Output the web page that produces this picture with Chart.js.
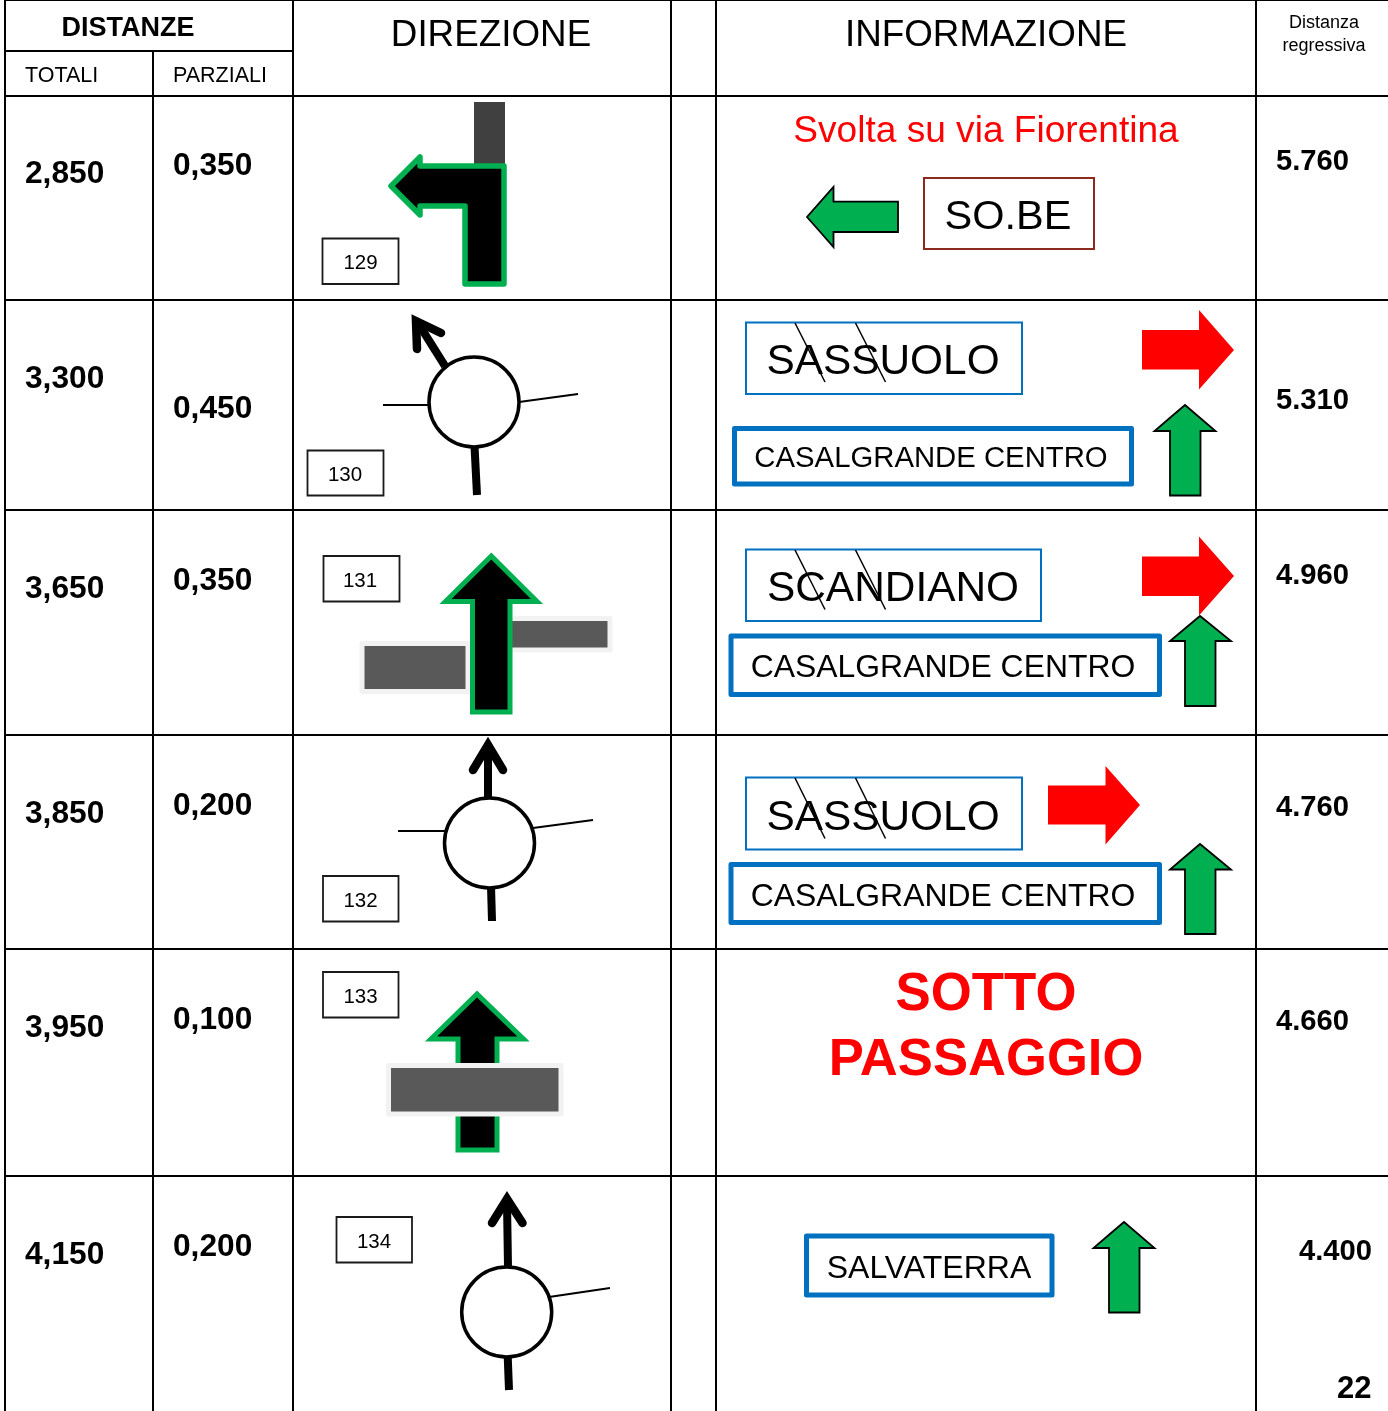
<!DOCTYPE html>
<html>
<head>
<meta charset="utf-8">
<style>
  html, body { margin: 0; padding: 0; background: #fff; }
  canvas { display: block; }
</style>
<script src="https://cdn.jsdelivr.net/npm/chart.js@4"></script>
</head>
<body>
<canvas id="mycanvas" width="1388" height="1411"></canvas>
<script>
// values read from the sheet
var totali = ["2,850", "3,300", "3,650", "3,850", "3,950", "4,150"];
var parziali = ["0,350", "0,450", "0,350", "0,200", "0,100", "0,200"];
var regressiva = ["5.760", "5.310", "4.960", "4.760", "4.660", "4.400"];
var numeri = ["129", "130", "131", "132", "133", "134"];
var intestazioni = ["DISTANZE", "TOTALI", "PARZIALI", "DIREZIONE", "INFORMAZIONE", "Distanza", "regressiva"];
var paginaNum = "22";

// layout of the table, in sheet pixels
var colonne = [5, 153, 293, 671, 716, 1256];
var righe = [0, 96, 300, 510, 735, 949, 1176];
var yTotali = [183, 388, 598, 823, 1037, 1264];
var yParziali = [175, 418, 590, 815, 1029, 1256];
var yRegressiva = [170, 409, 584, 816, 1030, 1260];
var xRegressiva = [1276, 1276, 1276, 1276, 1276, 1299];
var boxNumeri = [[322.5, 238.5, 398.5, 284], [307.5, 450.5, 383.5, 495.5], [323.5, 556, 399.5, 601.5], [323, 876, 398.5, 921.5], [323, 972, 398.5, 1017.5], [336.5, 1217, 412, 1262.5]];
var testoNumeri = [[360.5, 269], [345, 481], [360, 587], [360.5, 907], [360.5, 1003], [374, 1248]];

var VERDE = "#00B050", BLU = "#0070C0", ROSSO = "#FF0000", GRIGIO = "#595959", ALONE = "#F2F2F2";

var segni = [];

function linea(punti, colore, spessore, cap) {
  segni.push({
    data: punti.map(function(p){ return {x: p[0], y: p[1]}; }),
    showLine: true, fill: false, pointRadius: 0, tension: 0, clip: false,
    borderColor: colore, borderWidth: spessore, borderCapStyle: cap || "butt", borderJoinStyle: "miter"
  });
}

// closed shape: starts half way along an edge so the stroke has no notch
function forma(punti, riempi, colore, spessore, join) {
  var a = punti[0], b = punti[punti.length - 1];
  var mid = [(a[0] + b[0]) / 2, (a[1] + b[1]) / 2];
  var chiusa = [mid].concat(punti, [mid]);
  segni.push({
    data: chiusa.map(function(p){ return {x: p[0], y: p[1]}; }),
    showLine: true, fill: riempi ? "shape" : false, backgroundColor: riempi || "transparent",
    pointRadius: 0, tension: 0, clip: false,
    borderColor: colore, borderWidth: spessore, borderJoinStyle: join || "miter"
  });
}

function rett(x0, y0, x1, y1) {
  return [[x0, y0], [x1, y0], [x1, y1], [x0, y1]];
}

function cerchio(x, y) {
  segni.push({
    data: [{x: x, y: y}], showLine: false, clip: false, pointRadius: 45,
    pointBackgroundColor: "#fff", pointBorderColor: "#000", pointBorderWidth: 3.5
  });
}

// green sign arrow, the miter of the black outline stays inside the drawn tips
function frecciaSu(tip, y, xl, xr, s0, s1, bot) {
  forma([[tip, y + 1], [xr - 0.5, bot[0]], [s1, bot[0]], [s1, bot[1]], [s0, bot[1]], [s0, bot[0]], [xl + 0.5, bot[0]]], VERDE, "#000", 1.8);
}

function frecciaDx(x0, x1, y0, y1, top, bot, tx, ty) {
  forma([[x0, y0], [x1, y0], [x1, top], [tx, ty], [x1, bot], [x1, y1], [x0, y1]], ROSSO, ROSSO, 0);
}

function barra(x0, y0, x1, y1) {
  forma(rett(x0, y0, x1, y1), GRIGIO, ALONE, 5, "round");
}

function rotonda(cx, cy, braccia, uscita, testa, sotto) {
  braccia.forEach(function(b){ linea(b, "#000", 2); });
  linea(sotto, "#000", 8);
  linea(uscita, "#000", 8);
  linea(testa, "#000", 8.5, "round");
  cerchio(cx, cy);
}

// griglia
colonne.forEach(function(x, i){
  linea([[x, i === 1 ? 51 : 0], [x, 1411]], "#000", 2);
});
righe.forEach(function(y){
  linea([[5, y], [1388, y]], "#000", 2);
});
linea([[5, 51], [293, 51]], "#000", 2);

// riga 129
forma(rett(474, 102, 505, 168), "#404040", "#404040", 0);
forma([[391, 186], [420, 157], [420, 166], [504, 166], [504, 284], [465, 284], [465, 206], [420, 206], [420, 215]], "#000", VERDE, 5.5, "round");

// riga 130
rotonda(474, 402, [[[383, 405], [430, 405]], [[519, 402], [578, 394]]],
  [[445, 366], [418, 323]], [[417, 349], [416, 321], [441, 333]], [[474.5, 446], [477, 495]]);

// riga 131
barra(362, 643.5, 468, 691.5);
barra(505, 618.5, 610, 650);
forma([[491.3, 556], [537, 601.5], [510, 601.5], [510, 712], [472.5, 712], [472.5, 601.5], [445.5, 601.5]], "#000", VERDE, 5);

// riga 132
rotonda(489.5, 843, [[[398, 831], [445, 831]], [[533, 828], [593, 820]]],
  [[488.7, 798], [488, 748]], [[473, 770], [488, 745], [503, 770]], [[491, 886], [492, 921]]);

// riga 133
forma([[477, 994], [523.5, 1039], [497, 1039], [497, 1150], [458, 1150], [458, 1039], [431, 1039]], "#000", VERDE, 5);
barra(388.5, 1065.5, 561, 1114);

// riga 134
rotonda(506.7, 1312, [[[549, 1297], [610, 1288]]],
  [[508, 1267], [507, 1202]], [[492, 1223], [507, 1199], [522.5, 1223]], [[507.7, 1356], [509, 1390]]);

// riquadri numerati
boxNumeri.forEach(function(b){
  forma(rett(b[0], b[1], b[2], b[3]), null, "#1a1a1a", 1.8);
});

// informazioni, cartelli
forma(rett(924, 178, 1094, 249), null, "#8E2A1C", 2);
forma([[807, 217], [833.5, 187], [833.5, 201.7], [898, 201.7], [898, 232], [833.5, 232], [833.5, 247]], VERDE, "#000", 1.8);

forma(rett(746, 322.5, 1022, 394), null, BLU, 2);
forma(rett(734.5, 428.5, 1131.5, 484), null, BLU, 5, "round");
frecciaDx(1142, 1199, 330, 369.5, 310, 389.5, 1234, 350);
frecciaSu(1185, 404, 1154, 1216, 1170, 1200.5, [431, 495.5]);
linea([[795, 323], [825, 382]], "#000", 1.5);
linea([[855.5, 323], [885.5, 382]], "#000", 1.5);

forma(rett(746, 549.5, 1041, 621), null, BLU, 2);
forma(rett(731, 636, 1159.5, 694.5), null, BLU, 5, "round");
frecciaDx(1142, 1199, 556.5, 596, 536.5, 615.5, 1234, 576);
frecciaSu(1200, 615, 1169.5, 1231.5, 1185, 1215.5, [641, 706]);
linea([[795, 550], [825, 609.5]], "#000", 1.5);
linea([[855.5, 550], [885.5, 609.5]], "#000", 1.5);

forma(rett(746, 777.5, 1022, 849.5), null, BLU, 2);
forma(rett(731, 864.5, 1159.5, 922.5), null, BLU, 5, "round");
frecciaDx(1048, 1105.5, 785.5, 824.5, 766, 844.5, 1140, 805);
frecciaSu(1200, 843, 1169.5, 1231.5, 1185, 1215.5, [869.5, 934]);
linea([[795, 778], [825, 838.5]], "#000", 1.5);
linea([[855.5, 778], [885.5, 838.5]], "#000", 1.5);

forma(rett(806.5, 1236, 1052, 1295), null, BLU, 5, "round");
frecciaSu(1124, 1221, 1093, 1155, 1109, 1139.5, [1248, 1312.5]);

// later shapes paint on top: chart.js paints the highest order first
segni.forEach(function(d, i){ d.order = segni.length - i; });

// text: [string, x, baseline y, px, weight, colour, align]
var testi = [
  [intestazioni[0], 128, 36, 27, "bold", "#000", "center"],
  [intestazioni[1], 25, 82, 21.5, "normal", "#000", "left"],
  [intestazioni[2], 173, 82, 21.5, "normal", "#000", "left"],
  [intestazioni[3], 491, 46, 36.8, "normal", "#000", "center"],
  [intestazioni[4], 986, 46, 36.8, "normal", "#000", "center"],
  [intestazioni[5], 1324, 28, 18, "normal", "#000", "center"],
  [intestazioni[6], 1324, 51, 18, "normal", "#000", "center"],
  ["Svolta su via Fiorentina", 986, 142, 37.1, "normal", ROSSO, "center"],
  ["SO.BE", 1008, 229, 41.5, "normal", "#000", "center"],
  ["SASSUOLO", 883, 374, 42.4, "normal", "#000", "center"],
  ["CASALGRANDE CENTRO", 931, 467, 29.3, "normal", "#000", "center"],
  ["SCANDIANO", 893, 600.5, 42.4, "normal", "#000", "center"],
  ["CASALGRANDE CENTRO", 943, 677, 31.9, "normal", "#000", "center"],
  ["SASSUOLO", 883, 830, 42.4, "normal", "#000", "center"],
  ["CASALGRANDE CENTRO", 943, 906, 31.9, "normal", "#000", "center"],
  ["SOTTO", 986, 1010, 52.8, "bold", ROSSO, "center"],
  ["PASSAGGIO", 986, 1074.5, 52.6, "bold", ROSSO, "center"],
  ["SALVATERRA", 929, 1278, 32, "normal", "#000", "center"],
  [paginaNum, 1371.5, 1398, 31, "bold", "#000", "right"]
];
totali.forEach(function(t, i){ testi.push([t, 25, yTotali[i], 31.7, "bold", "#000", "left"]); });
parziali.forEach(function(t, i){ testi.push([t, 173, yParziali[i], 31.7, "bold", "#000", "left"]); });
regressiva.forEach(function(t, i){ testi.push([t, xRegressiva[i], yRegressiva[i], 29.2, "bold", "#000", "left"]); });
numeri.forEach(function(t, i){ testi.push([t, testoNumeri[i][0], testoNumeri[i][1], 20.5, "normal", "#000", "center"]); });

var scritte = {
  id: "scritte",
  afterDatasetsDraw: function(chart) {
    var ctx = chart.ctx, sx = chart.scales.x, sy = chart.scales.y;
    ctx.save();
    ctx.textBaseline = "alphabetic";
    testi.forEach(function(t){
      ctx.font = t[4] + " " + t[3] + "px 'Liberation Sans'";
      ctx.fillStyle = t[5];
      ctx.textAlign = t[6];
      ctx.fillText(t[0], sx.getPixelForValue(t[1]), sy.getPixelForValue(t[2]));
    });
    ctx.restore();
  }
};

var chart = new Chart(document.getElementById("mycanvas"), {
  type: "scatter",
  data: { datasets: segni },
  options: {
    responsive: false,
    animation: false,
    layout: { padding: 0, autoPadding: false },
    plugins: { legend: { display: false }, tooltip: { enabled: false } },
    scales: {
      x: { type: "linear", min: 0, max: 1388, display: false },
      y: { type: "linear", min: 0, max: 1411, reverse: true, display: false }
    }
  },
  plugins: [scritte]
});
</script>
</body>
</html>
